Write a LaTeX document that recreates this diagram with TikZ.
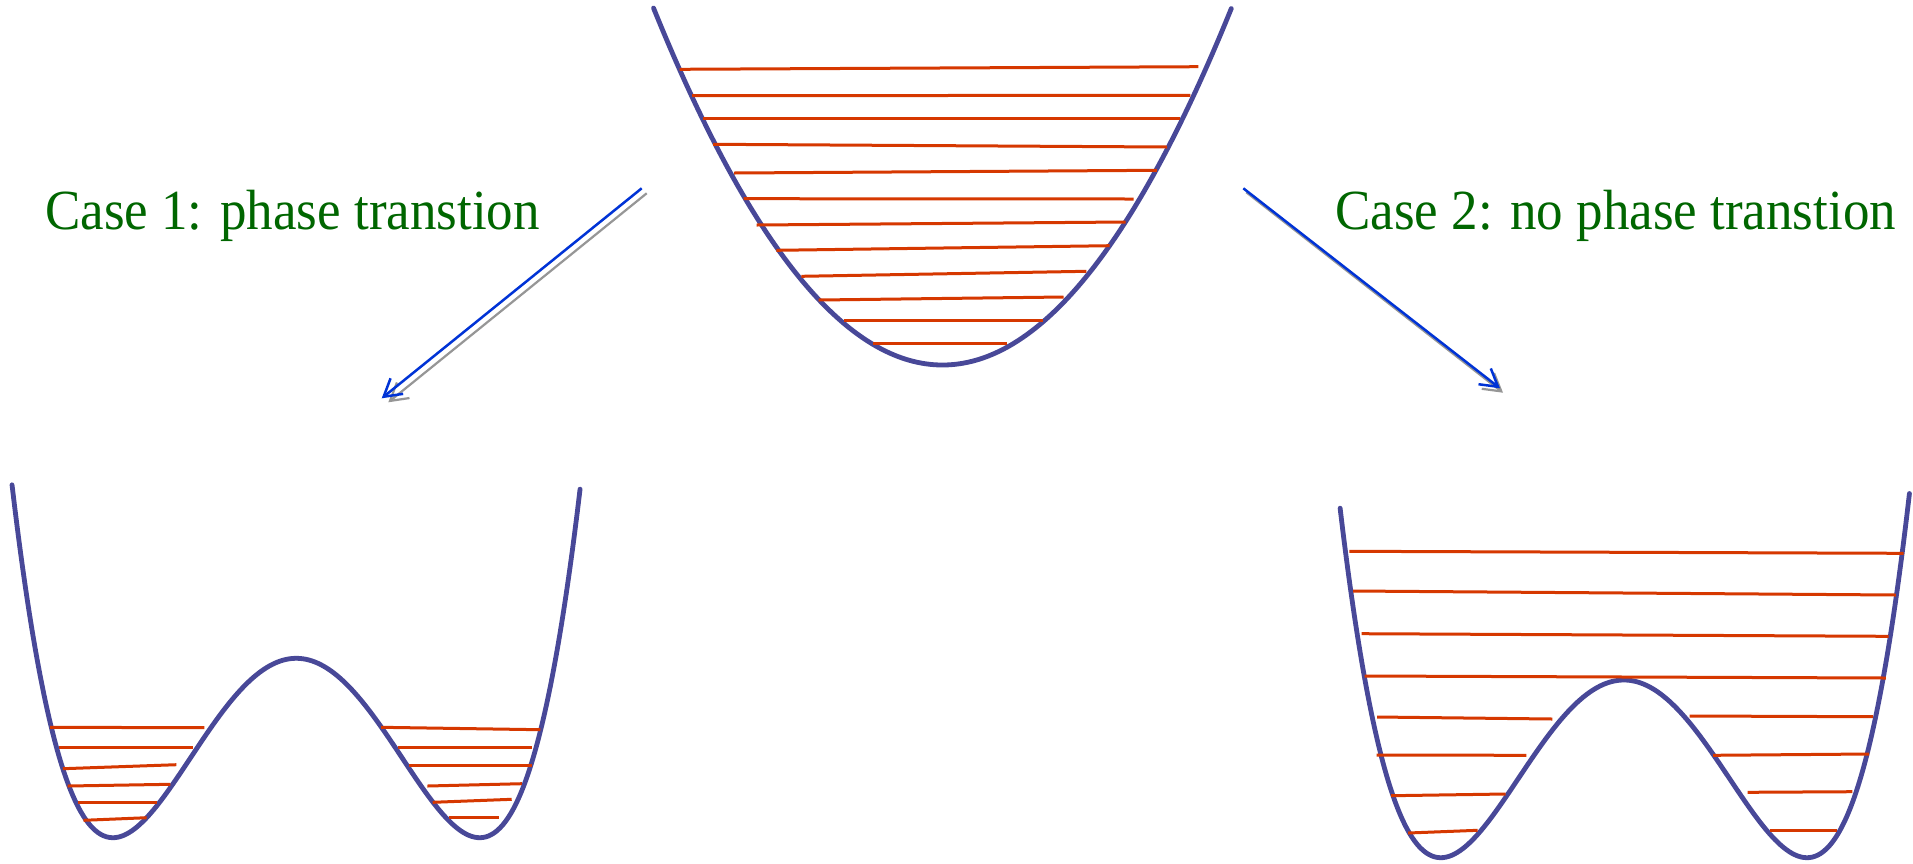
\documentclass[tikz,border=0pt]{standalone}
\usepackage{fontspec}
\setmainfont{Liberation Serif}
\usetikzlibrary{arrows.meta}
\definecolor{wellblue}{RGB}{72,72,152}
\definecolor{levelred}{RGB}{214,56,0}
\definecolor{arrowblue}{RGB}{0,51,214}
\definecolor{shadowgray}{RGB}{150,150,150}
\definecolor{casegreen}{RGB}{0,102,0}
\begin{document}
\begin{tikzpicture}[x=1pt,y=-1pt,
  well/.style={draw=wellblue, line width=4.8pt, line cap=round, line join=round},
  level/.style={draw=levelred, line width=3pt},
  caselabel/.style={text=casegreen, font=\fontsize{53}{60}\selectfont, inner sep=0pt, anchor=base west},
  mainarrow/.style={draw=arrowblue, line width=2.5pt, -{Straight Barb[length=17pt,width=20pt]}},
  shadowarrow/.style={draw=shadowgray, line width=2.2pt, -{Straight Barb[length=17pt,width=20pt]}},
]
\useasboundingbox (0,0) rectangle (1913,863);
\fill[white] (0,0) rectangle (1913,863);

% ---- top harmonic well ----
\draw[well] plot[domain=-1:1, samples=120, smooth] ({942.5+289*\x},{365-357*\x*\x});
\draw[level] (679.5,69.3) -- (1198.3,66.7);
\draw[level] (692.2,95.7) -- (1190.4,95.3);
\draw[level] (702.5,118.3) -- (1180.1,118.3);
\draw[level] (713.2,144.3) -- (1167.1,147);
\draw[level] (734.1,173) -- (1156.8,170.3);
\draw[level] (743.6,198.7) -- (1133.5,199);
\draw[level] (756.6,225) -- (1125.6,222);
\draw[level] (776.4,250.3) -- (1109.7,245.7);
\draw[level] (801.3,276.3) -- (1086.4,271.3);
\draw[level] (818.7,300) -- (1063.5,297);
\draw[level] (844.4,320.3) -- (1042.5,320.3);
\draw[level] (873.3,343.7) -- (1006.5,343.7);

% ---- labels ----
\node[caselabel] (case1) at (45,229) {\scalebox{1}[1.07]{Case 1: phase transtion}};
\node[caselabel] (case2) at (1335,229) {\scalebox{1}[1.07]{Case 2: no phase transtion}};

% ---- arrows ----
\coordinate (ls) at (641.7,188.3);
\coordinate (le) at (381.7,398.3);
\coordinate (lss) at (646.7,193.3);
\coordinate (les) at (388.3,402.3);
\coordinate (rs) at (1243.3,188.3);
\coordinate (re) at (1500,388.3);
\coordinate (rss) at (1246.3,192.3);
\coordinate (res) at (1503,392.7);
\draw[shadowarrow] (lss) -- (les);
\draw[mainarrow] (ls) -- (le);
\draw[shadowarrow] (rss) -- (res);
\draw[mainarrow] (rs) -- (re);

% ---- left double well ----
\draw[well] plot[domain=-1.55:1.55, samples=200, smooth] ({296.3+183.4*\x},{837.7-179.4*(\x*\x-1)^2});
\draw[level] (50,727.3) -- (204.3,727.7);
\draw[level] (59.4,747.3) -- (193.4,747.3);
\draw[level] (62.8,768.7) -- (176.4,764.7);
\draw[level] (67.7,786) -- (170.4,784.3);
\draw[level] (78.3,802.3) -- (156.9,802.3);
\draw[level] (83.5,820.3) -- (146.7,817.7);
\draw[level] (381.1,727.3) -- (540.3,729.7);
\draw[level] (398,747) -- (532.4,747);
\draw[level] (409.3,765.7) -- (532.4,765.7);
\draw[level] (427.4,786) -- (521.8,783.7);
\draw[level] (432.7,802.3) -- (511.7,799.3);
\draw[level] (448.5,817.7) -- (499.2,817.7);

% ---- right double well ----
\draw[well] plot[domain=-1.55:1.56, samples=200, smooth] ({1623.9+183.1*\x},{857.7-177.7*(\x*\x-1)^2});
\draw[level] (1349.3,551.3) -- (1903.7,553.3);
\draw[level] (1353.1,591) -- (1895.9,595);
\draw[level] (1361.6,633.7) -- (1888.5,636.3);
\draw[level] (1364.6,676) -- (1885.9,678);
\draw[level] (1377.2,717) -- (1552.3,719);
\draw[level] (1376.5,755) -- (1526.3,755.3);
\draw[level] (1391,795.7) -- (1505.5,794);
\draw[level] (1408.1,833) -- (1477.6,830.3);
\draw[level] (1689.5,716) -- (1873.2,716.7);
\draw[level] (1713,755.3) -- (1869.1,754);
\draw[level] (1747.5,792.3) -- (1852.4,791.7);
\draw[level] (1769.9,830) -- (1836.8,830);
\end{tikzpicture}
\end{document}
